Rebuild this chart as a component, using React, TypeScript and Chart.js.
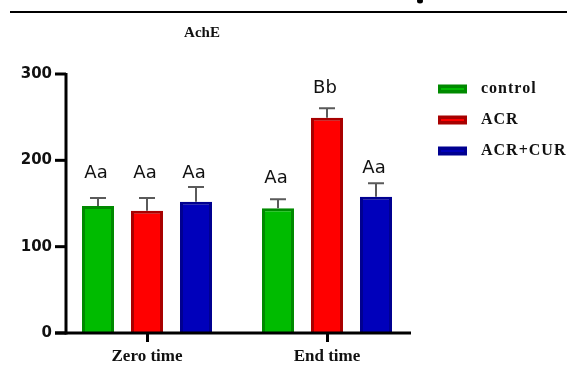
import { useEffect, useRef } from "react";
import { Chart, registerables } from "chart.js";
Chart.register(...registerables);

const categories = ["Zero time", "End time"];
const seriesNames = ["control", "ACR", "ACR+CUR"];
const controlValues = [147, 144.4];
const controlErrors = [9.4, 10.5];
const acrValues = [141.7, 249.4];
const acrErrors = [14.7, 11];
const acrCurValues = [152, 157.9];
const acrCurErrors = [17, 15.5];
const controlLetters = ["Aa", "Aa"];
const acrLetters = ["Aa", "Bb"];
const acrCurLetters = ["Aa", "Aa"];
const controlLetterLevel = [179, 173.5];
const acrLetterLevel = [179, 278];
const acrCurLetterLevel = [179, 185];
const yTickValues = [0, 100, 200, 300];
const chartTitle = "AchE";

const fillColors = ["#00bb00", "#ff0000", "#0000bb"];
const borderColors = ["#008a00", "#a80000", "#000090"];
const errorsBySeries = [controlErrors, acrErrors, acrCurErrors];
const lettersBySeries = [controlLetters, acrLetters, acrCurLetters];
const letterLevelBySeries = [controlLetterLevel, acrLetterLevel, acrCurLetterLevel];
const valuesBySeries = [controlValues, acrValues, acrCurValues];

const SERIF = "'Liberation Serif', 'Times New Roman', serif";
const SANS = "'DejaVu Sans', Verdana, sans-serif";

const decorPlugin = {
  id: "decor",
  afterDatasetsDraw(chart: any) {
    const ctx = chart.ctx;
    const y = chart.scales.y;
    const area = chart.chartArea;
    ctx.save();
    // error bars
    chart.data.datasets.forEach((ds: any, i: number) => {
      const meta = chart.getDatasetMeta(i);
      meta.data.forEach((el: any, j: number) => {
        const v = valuesBySeries[i][j];
        const top = y.getPixelForValue(v + errorsBySeries[i][j]);
        ctx.strokeStyle = "#5a5a5a";
        ctx.lineWidth = 2;
        ctx.beginPath();
        ctx.moveTo(el.x, el.y);
        ctx.lineTo(el.x, top);
        ctx.moveTo(el.x - 8, top);
        ctx.lineTo(el.x + 8, top);
        ctx.stroke();
        // letters
        ctx.fillStyle = "#111";
        ctx.font = `18px ${SANS}`;
        ctx.textAlign = "center";
        ctx.textBaseline = "alphabetic";
        ctx.fillText(lettersBySeries[i][j], el.x - 2, y.getPixelForValue(letterLevelBySeries[i][j]));
      });
    });
    // axes
    const x0 = area.left + 9;
    const yb = y.getPixelForValue(0);
    ctx.strokeStyle = "#000";
    ctx.lineWidth = 3;
    ctx.beginPath();
    ctx.moveTo(x0, y.getPixelForValue(300) - 1);
    ctx.lineTo(x0, yb + 1.5);
    ctx.stroke();
    yTickValues.forEach((t) => {
      const py = y.getPixelForValue(t);
      ctx.beginPath();
      ctx.moveTo(x0 - 11, py);
      ctx.lineTo(x0, py);
      ctx.stroke();
    });
    ctx.beginPath();
    ctx.moveTo(x0 - 11, yb);
    ctx.lineTo(area.right - 6, yb);
    ctx.stroke();
    ctx.restore();
  },
  afterDraw(chart: any) {
    const ctx = chart.ctx;
    ctx.save();
    // top rule
    ctx.strokeStyle = "#000";
    ctx.lineWidth = 2;
    ctx.beginPath();
    ctx.moveTo(10, 12);
    ctx.lineTo(567, 12);
    ctx.stroke();
    // cropped descender of text above the rule
    ctx.fillStyle = "#000";
    ctx.beginPath();
    ctx.ellipse(420, 1, 3, 2.5, 0, 0, Math.PI * 2);
    ctx.fill();
    // title
    ctx.font = `bold 15px ${SERIF}`;
    ctx.textAlign = "center";
    ctx.textBaseline = "middle";
    ctx.fillStyle = "#111";
    ctx.fillText(chartTitle, 202, 33);
    // legend
    const legendY = [89, 120, 151];
    seriesNames.forEach((name, i) => {
      const cy = legendY[i];
      ctx.fillStyle = borderColors[i];
      ctx.fillRect(438, cy - 4.5, 29, 9);
      ctx.fillStyle = fillColors[i];
      ctx.fillRect(441, cy - 1, 23, 2);
      ctx.fillStyle = "#111";
      ctx.font = `bold 16px ${SERIF}`;
      ctx.textAlign = "left";
      ctx.textBaseline = "middle";
      (ctx as any).letterSpacing = "1px";
      ctx.fillText(name, 481, cy);
      (ctx as any).letterSpacing = "0px";
    });
    ctx.restore();
  },
};

export default function App() {
  const ref = useRef<HTMLCanvasElement>(null);
  useEffect(() => {
    if (!ref.current) return;
    const chart = new Chart(ref.current, {
      type: "bar",
      data: {
        labels: categories,
        datasets: seriesNames.map((name, i) => ({
          label: name,
          data: valuesBySeries[i],
          backgroundColor: fillColors[i],
          borderColor: borderColors[i],
          borderWidth: 3,
          categoryPercentage: 0.8167,
          barPercentage: 0.653,
        })),
      },
      options: {
        animation: false,
        responsive: false,
        devicePixelRatio: 1,
        layout: { padding: { left: 0, right: 150, top: 74, bottom: 0 } },
        plugins: { legend: { display: false }, tooltip: { enabled: false }, title: { display: false } },
        scales: {
          x: {
            grid: {
              display: true,
              drawOnChartArea: false,
              drawTicks: true,
              tickLength: 9,
              color: "#000",
              lineWidth: 3,
              offset: false,
            },
            border: { display: false },
            ticks: {
              color: "#111",
              font: { family: SERIF, size: 17, weight: "bold" },
              padding: 4,
            },
            afterFit: (s: any) => {
              s.height = 37;
            },
          },
          y: {
            min: 0,
            max: 300,
            grid: { display: false, drawTicks: false },
            border: { display: false },
            ticks: {
              stepSize: 100,
              color: "#111",
              font: { family: SANS, size: 15, weight: "bold" },
              padding: 5,
            },
            afterFit: (s: any) => {
              s.width = 57;
            },
          },
        },
      },
      plugins: [decorPlugin],
    });
    return () => chart.destroy();
  }, []);
  return (
    <div style={{ position: "absolute", left: 0, top: 0, width: 567, height: 370, background: "#fff" }}>
      <canvas ref={ref} width={567} height={370} />
    </div>
  );
}
